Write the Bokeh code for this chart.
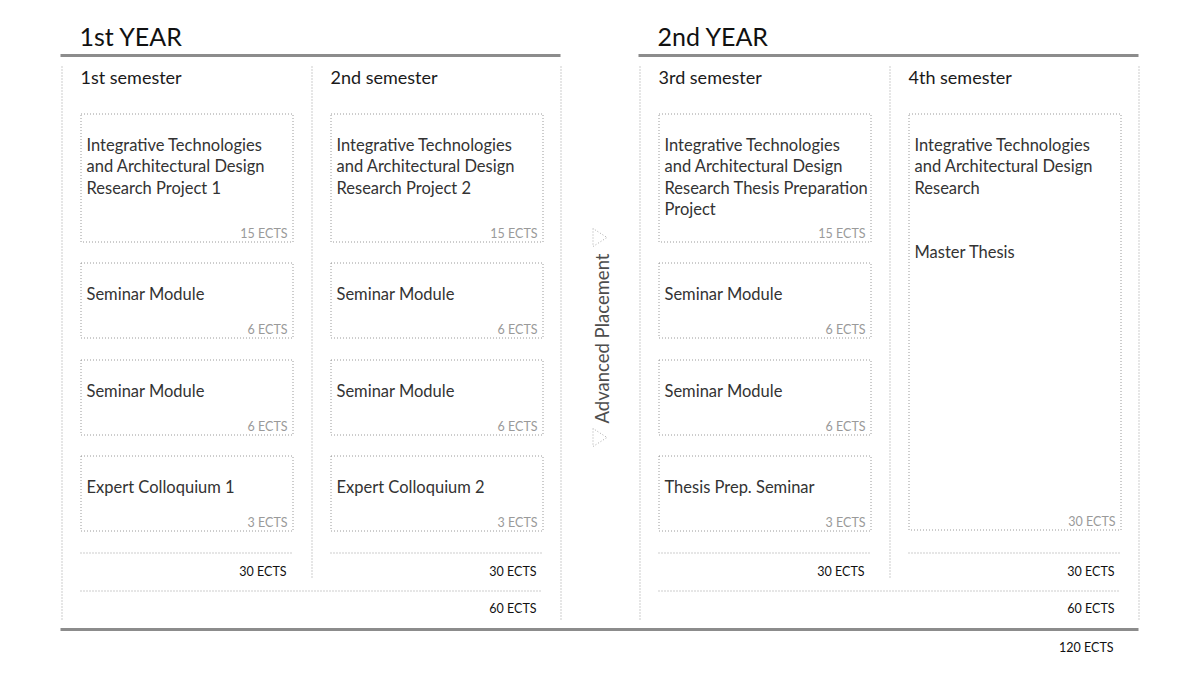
import math
from bokeh.plotting import figure
from bokeh.models import Range1d
from bokeh.core.properties import value
from bokeh.embed import file_html
from bokeh.resources import INLINE

# ---------------- data ----------------
years = ["1st YEAR", "2nd YEAR"]
year_ects = [60, 60]
total_ects = 120
semesters = ["1st semester", "2nd semester", "3rd semester", "4th semester"]
semester_year = [0, 0, 1, 1]
semester_ects = [30, 30, 30, 30]
sem1_modules = ["Integrative Technologies\nand Architectural Design\nResearch Project 1",
                "Seminar Module", "Seminar Module", "Expert Colloquium 1"]
sem1_ects = [15, 6, 6, 3]
sem2_modules = ["Integrative Technologies\nand Architectural Design\nResearch Project 2",
                "Seminar Module", "Seminar Module", "Expert Colloquium 2"]
sem2_ects = [15, 6, 6, 3]
sem3_modules = ["Integrative Technologies\nand Architectural Design\nResearch Thesis Preparation\nProject",
                "Seminar Module", "Seminar Module", "Thesis Prep. Seminar"]
sem3_ects = [15, 6, 6, 3]
sem4_modules = ["Integrative Technologies\nand Architectural Design\nResearch\n\n\nMaster Thesis"]
sem4_ects = [30]
placement_label = "Advanced Placement"

modules = [sem1_modules, sem2_modules, sem3_modules, sem4_modules]
module_ects = [sem1_ects, sem2_ects, sem3_ects, sem4_ects]

# ---------------- layout ----------------
FONT = value("Lato")
W, H = 1183, 659
p = figure(width=W, height=H, x_range=Range1d(0, W), y_range=Range1d(H, 0),
           output_backend="svg", toolbar_location=None, min_border=0)
p.axis.visible = False
p.grid.visible = False
p.outline_line_color = None
p.background_fill_color = "white"
p.border_fill_color = "white"

sem_left = [80, 330, 658, 908]
box_w = 212
row_top = [113, 262, 359, 455]
row_h = [128, 75, 75, 75]
year_left = [61, 639]
year_right = [560, 1138]
DOT = "#9a9a9a"
DASH = "1 2"
TXT = "#333333"

# year titles and thick lines
for yi, name in enumerate(years):
    first_sem = semester_year.index(yi)
    p.text(x=[sem_left[first_sem] - 1], y=[35.5], text=[name], text_font=FONT,
           text_font_size="25px", text_color="#111111", text_baseline="middle")
    p.segment(x0=[year_left[yi] - 1], x1=[year_right[yi]], y0=[55], y1=[55],
              line_color="#8c8c8c", line_width=3)
    for xx in (year_left[yi], year_right[yi]):
        p.segment(x0=[xx + 0.5], x1=[xx + 0.5], y0=[66], y1=[620],
                  line_color=DOT, line_width=1, line_dash=DASH)
    sems = [i for i, s in enumerate(semester_year) if s == yi]
    l = sem_left[sems[0]]
    r = sem_left[sems[-1]] + box_w
    p.segment(x0=[l], x1=[r], y0=[590.5], y1=[590.5], line_color=DOT, line_width=1, line_dash=DASH)
    p.text(x=[r - 6], y=[608], text=[f"{year_ects[yi]} ECTS"], text_font=FONT,
           text_font_size="12.5px", text_color="#111111", text_align="right", text_baseline="middle")

# semester separators
for si in (1, 3):
    xx = sem_left[si] - 19
    p.segment(x0=[xx + 0.5], x1=[xx + 0.5], y0=[66], y1=[578],
              line_color=DOT, line_width=1, line_dash=DASH)

# semesters and modules
for si, sname in enumerate(semesters):
    l = sem_left[si]
    p.text(x=[l], y=[76.5], text=[sname], text_font=FONT, text_font_size="18px",
           text_color="#1a1a1a", text_baseline="middle")
    n = len(modules[si])
    for mi, (title, ects) in enumerate(zip(modules[si], module_ects[si])):
        top = row_top[mi]
        if n == 1:
            bottom = row_top[-1] + row_h[-1] - 1
        else:
            bottom = top + row_h[mi]
        p.quad(left=[l + 0.5], right=[l + box_w + 0.5], top=[top + 0.5], bottom=[bottom + 0.5],
               fill_color=None, line_color=DOT, line_width=1, line_dash=DASH)
        lines = title.split("\n")
        xs, ys, ts = [], [], []
        for li, t in enumerate(lines):
            if t:
                xs.append(l + 6)
                ys.append(top + 31 + li * 21.5)
                ts.append(t)
        p.text(x=xs, y=ys, text=ts, text_font=FONT, text_font_size="16.5px",
               text_color=TXT, text_baseline="middle")
        p.text(x=[l + box_w - 5], y=[bottom - 8], text=[f"{ects} ECTS"], text_font=FONT,
               text_font_size="12.5px", text_color="#9a9a9a", text_align="right",
               text_baseline="middle")
    p.segment(x0=[l], x1=[l + box_w], y0=[552.5], y1=[552.5], line_color=DOT, line_width=1, line_dash=DASH)
    p.text(x=[l + box_w - 6], y=[571], text=[f"{semester_ects[si]} ECTS"], text_font=FONT,
           text_font_size="12.5px", text_color="#111111", text_align="right", text_baseline="middle")

# overall total
p.segment(x0=[60], x1=[1138], y0=[629], y1=[629], line_color="#8c8c8c", line_width=3)
p.text(x=[1113], y=[647], text=[f"{total_ects} ECTS"], text_font=FONT,
       text_font_size="12.5px", text_color="#111111", text_align="right", text_baseline="middle")

# advanced placement
p.text(x=[601], y=[338], text=[placement_label], text_font=FONT, text_font_size="18.5px",
       text_color="#4d4d4d", text_align="center", text_baseline="middle", angle=math.pi / 2)
for cy in (237, 437):
    p.patch(x=[592.5, 592.5, 606.5], y=[cy - 9, cy + 9, cy], fill_color=None,
            line_color="#aaaaaa", line_width=1, line_dash=DASH)

open("out.html", "w").write(file_html(p, INLINE))
